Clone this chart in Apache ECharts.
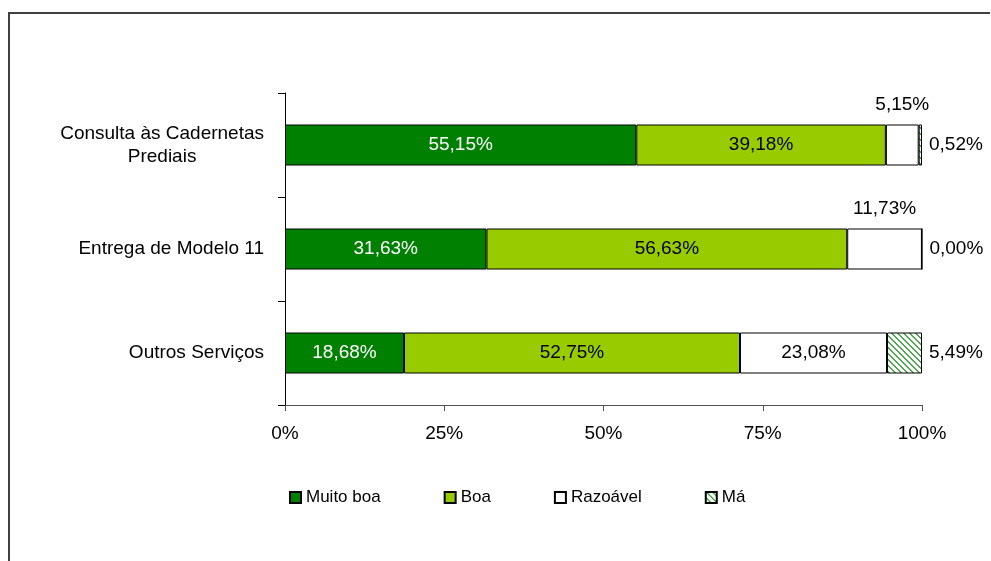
<!DOCTYPE html>
<html>
<head>
<meta charset="utf-8">
<script src="https://cdn.jsdelivr.net/npm/echarts@6/dist/echarts.min.js"></script>
<style>
  html, body { margin: 0; padding: 0; background: #fff; }
  #chart { width: 991px; height: 561px; }
</style>
</head>
<body>
<div id="chart"></div>
<script>
// Service categories (top to bottom)
const categories = ['Consulta às Cadernetas\nPrediais', 'Entrega de Modelo 11', 'Outros Serviços'];
// Rating shares per category, in percent
const muitoBoa = [55.15, 31.63, 18.68];
const boa      = [39.18, 56.63, 52.75];
const razoavel = [5.15, 11.73, 23.08];
const ma       = [0.52, 0.00, 5.49];
const xTicks   = [0, 25, 50, 75, 100];

const FONT = 'Liberation Sans, Arial, sans-serif';

// Diagonal hatch used for the "Má" series
function hatchPattern() {
  const size = 6;
  const c = document.createElement('canvas');
  c.width = size; c.height = size;
  const ctx = c.getContext('2d');
  const img = ctx.createImageData(size, size);
  for (let y = 0; y < size; y++) {
    for (let x = 0; x < size; x++) {
      const i = (y * size + x) * 4;
      const d = ((x - y) % size + size) % size;
      const on = d === 0 || d === 1;
      img.data[i]     = on ? 70 : 255;
      img.data[i + 1] = on ? 170 : 255;
      img.data[i + 2] = on ? 70 : 255;
      img.data[i + 3] = 255;
    }
  }
  ctx.putImageData(img, 0, 0);
  return c;
}

const fmt = v => v.toFixed(2).replace('.', ',') + '%';

const chart = echarts.init(document.getElementById('chart'), null, { renderer: 'canvas' });

const baseLabel = {
  show: true,
  fontFamily: FONT,
  fontSize: 19,
  color: '#000',
  formatter: p => fmt(p.value)
};

const border = { borderColor: '#000', borderWidth: 1 };

chart.setOption({
  animation: false,
  backgroundColor: '#fff',
  textStyle: { fontFamily: FONT },
  grid: { left: 285, right: 69, top: 93, bottom: 156, containLabel: false },
  xAxis: {
    type: 'value',
    min: 0, max: 100, interval: 25,
    splitLine: { show: false },
    axisLine: { show: true, lineStyle: { color: '#555', width: 1 } },
    axisTick: { show: true, length: 6, lineStyle: { color: '#555' } },
    axisLabel: {
      margin: 19,
      fontFamily: FONT, fontSize: 19, color: '#000',
      formatter: v => xTicks.includes(v) ? v + '%' : ''
    }
  },
  yAxis: {
    type: 'category',
    inverse: true,
    data: categories,
    axisLine: { show: true, lineStyle: { color: '#000', width: 1 } },
    axisTick: { show: true, length: 7, lineStyle: { color: '#000' } },
    axisLabel: {
      margin: 21,
      fontFamily: FONT, fontSize: 19, color: '#000',
      lineHeight: 23,
      formatter: v => v.split('\n').map(s => '{c|' + s + '}').join('\n'),
      rich: { c: { align: 'center', fontFamily: FONT, fontSize: 19, color: '#000', lineHeight: 23 } }
    }
  },
  legend: {
    left: 289, top: 489, padding: 0,
    itemWidth: 11, itemHeight: 11, itemGap: 63,
    icon: 'rect',
    textStyle: { fontFamily: FONT, fontSize: 17, color: '#000' },
    data: ['Muito boa', 'Boa', 'Razoável', 'Má']
  },
  series: [
    {
      name: 'Muito boa', type: 'bar', stack: 'total', barWidth: 41,
      itemStyle: Object.assign({ color: '#008000' }, border),
      label: Object.assign({}, baseLabel, { position: 'inside', color: '#fff' }),
      data: muitoBoa
    },
    {
      name: 'Boa', type: 'bar', stack: 'total', barWidth: 41,
      itemStyle: Object.assign({ color: '#99CC00' }, border),
      label: Object.assign({}, baseLabel, { position: 'inside' }),
      data: boa
    },
    {
      name: 'Razoável', type: 'bar', stack: 'total', barWidth: 41,
      itemStyle: Object.assign({ color: '#ffffff' }, border),
      data: razoavel.map((v, i) => ({
        value: v,
        label: Object.assign({}, baseLabel, i < 2
          ? { position: 'top', distance: 10 }
          : { position: 'inside' })
      }))
    },
    {
      name: 'Má', type: 'bar', stack: 'total', barWidth: 41,
      itemStyle: Object.assign({ color: { image: hatchPattern(), repeat: 'repeat' } }, border),
      label: Object.assign({}, baseLabel, { position: 'right', distance: 7 }),
      data: ma
    }
  ],
  graphic: [
    {
      type: 'polyline',
      shape: { points: [[9, 561], [9, 13], [990, 13]] },
      style: { stroke: '#404040', lineWidth: 2, fill: null }
    }
  ]
});
</script>
</body>
</html>
